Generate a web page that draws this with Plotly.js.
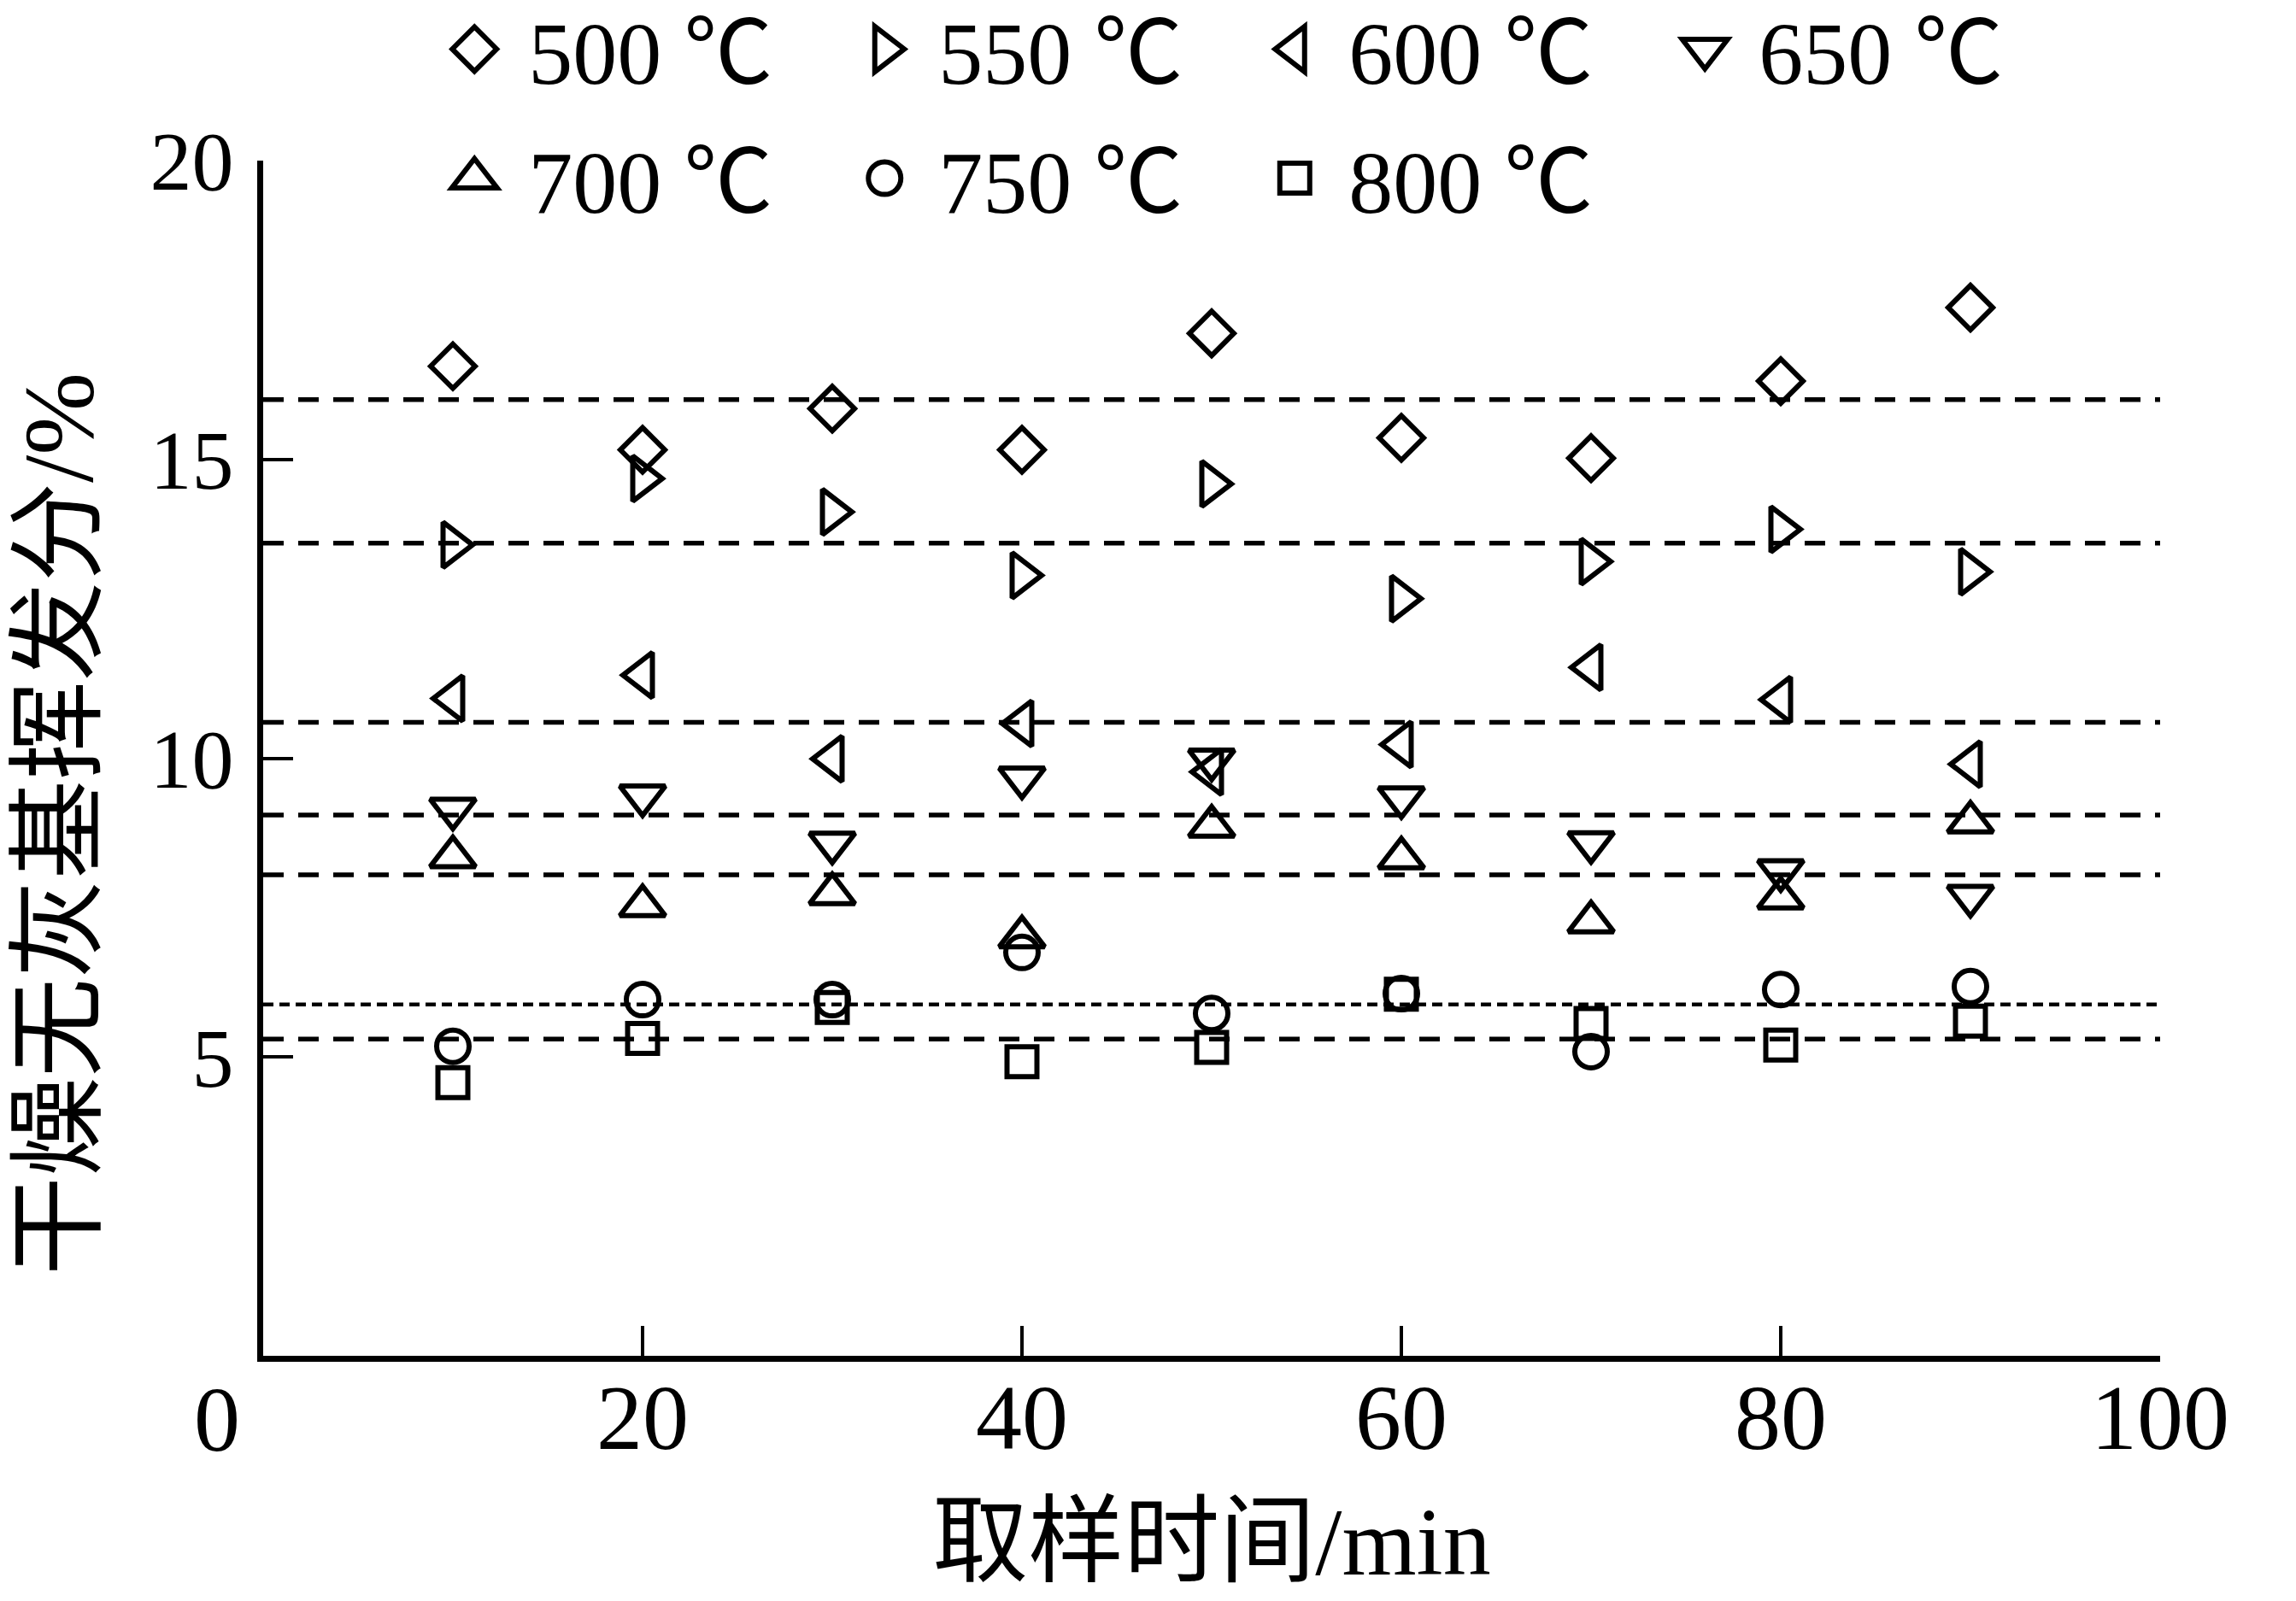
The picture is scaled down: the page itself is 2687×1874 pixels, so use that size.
<!DOCTYPE html>
<html><head><meta charset="utf-8">
<script src="https://cdn.plot.ly/plotly-3.0.1.min.js"></script>
<style>html,body{margin:0;padding:0;background:#fff}</style>
</head><body>
<div id="chart" style="width:2687px;height:1874px"></div>
<script>
// ---- data ----
const sampleTimes = [10, 20, 30, 40, 50, 60, 70, 80, 90];
const seriesNames = ['500 ℃', '550 ℃', '600 ℃', '650 ℃', '700 ℃', '750 ℃', '800 ℃'];
const v500 = [16.56, 15.16, 15.85, 15.16, 17.11, 15.36, 15.02, 16.31, 17.54];
const v550 = [13.57, 14.68, 14.12, 13.06, 14.59, 12.67, 13.29, 13.83, 13.12];
const v600 = [11.00, 11.39, 9.99, 10.58, 9.77, 10.23, 11.52, 10.98, 9.90];
const v650 = [9.15, 9.37, 8.58, 9.67, 9.97, 9.34, 8.59, 8.12, 7.69];
const v700 = [8.35, 7.53, 7.73, 7.01, 8.86, 8.33, 7.26, 7.66, 8.93];
const v750 = [5.18, 5.96, 5.96, 6.75, 5.73, 6.06, 5.09, 6.13, 6.18];
const v800 = [4.57, 5.31, 5.83, 4.92, 5.16, 6.05, 5.56, 5.20, 5.60];
const refLevels = [16.0, 13.6, 10.6, 9.05, 8.05, 5.3];
const fineRefLevels = [5.88];
const xTickVals = [20, 40, 60, 80, 100];
const xTickText = ['20', '40', '60', '80', '100'];
const yTickVals = [5, 10, 15, 20];
const yTickText = ['5', '10', '15', '20'];
const xTitle = '取样时间/min';
const yTitle = '干燥无灰基挥发分/%';

// ---- styles ----
const serif = 'Liberation Serif, Times New Roman, Noto Sans CJK SC, serif';
const allValues = [v500, v550, v600, v650, v700, v750, v800];
const symbols = ['diamond-open', 'triangle-right-open', 'triangle-left-open', 'triangle-down-open',
                 'triangle-up-open', 'circle-open', 'square-open'];
const sizes = [40, 46, 46, 46, 46, 38, 35];
const legendIds = ['legend', 'legend', 'legend', 'legend', 'legend2', 'legend2', 'legend2'];
const MLW = 6;

const traces = allValues.map((vals, i) => ({
  type: 'scatter', mode: 'markers',
  x: sampleTimes, y: vals, name: seriesNames[i],
  legend: legendIds[i],
  marker: { symbol: symbols[i], size: sizes[i], color: '#000', line: { color: '#000', width: MLW } },
  cliponaxis: false
}));

const shapes = [];
refLevels.forEach(lv => shapes.push({
  type: 'line', xref: 'x', yref: 'y', x0: 0, x1: 100, y0: lv, y1: lv,
  line: { color: '#000', width: 5.5, dash: '24px,17px' }
}));
fineRefLevels.forEach(lv => shapes.push({
  type: 'line', xref: 'x', yref: 'y', x0: 0, x1: 100, y0: lv, y1: lv,
  line: { color: '#000', width: 4.5, dash: '12px,7px' }
}));

const legendBase = {
  orientation: 'h', xanchor: 'left', yanchor: 'middle',
  font: { family: serif, size: 104, color: '#000' },
  bgcolor: 'rgba(0,0,0,0)', borderwidth: 0,
  itemwidth: 116, entrywidth: 349, entrywidthmode: 'pixels',
  itemclick: false, itemdoubleclick: false
};

const layout = {
  width: 2687, height: 1874,
  margin: { l: 308, r: 159, t: 188, b: 287, autoexpand: false },
  paper_bgcolor: '#fff', plot_bgcolor: '#fff',
  font: { family: serif, color: '#000' },
  showlegend: true,
  legend: Object.assign({}, legendBase, { x: 0.083, y: 1.093 }),
  legend2: Object.assign({}, legendBase, { x: 0.083, y: 0.985 }),
  xaxis: {
    range: [0, 100], showgrid: false, zeroline: false,
    showline: true, linecolor: '#000', linewidth: 7,
    ticks: 'inside', ticklen: 35, tickwidth: 4, tickcolor: '#000',
    tickmode: 'array', tickvals: xTickVals, ticktext: xTickText,
    tickfont: { family: serif, size: 108, color: '#000' },
    ticklabelstandoff: -28,
    title: { text: xTitle, font: { family: serif, size: 112, color: '#000' }, standoff: 50 }
  },
  yaxis: {
    range: [0, 20], showgrid: false, zeroline: false,
    showline: true, linecolor: '#000', linewidth: 7,
    ticks: 'inside', ticklen: 35, tickwidth: 4, tickcolor: '#000',
    tickmode: 'array', tickvals: yTickVals, ticktext: yTickText,
    tickfont: { family: serif, size: 98, color: '#000' },
    ticklabelstandoff: 8
  },
  shapes: shapes,
  annotations: [{
    xref: 'paper', yref: 'paper', x: -0.0243, y: -0.0536, xanchor: 'center', yanchor: 'middle',
    text: '0', showarrow: false, font: { family: serif, size: 108, color: '#000' }
  }, {
    xref: 'paper', yref: 'paper', x: -0.1077, y: 0.4453, xanchor: 'center', yanchor: 'middle',
    text: yTitle, textangle: -90, showarrow: false, font: { family: serif, size: 116, color: '#000' }
  }]
};

function enlargeLegendSymbols(gd) {
  gd.querySelectorAll('.infolayer g.traces').forEach(g => {
    const d = g.__data__;
    const tr = d && d[0] && d[0].trace;
    if (!tr || !tr.marker) return;
    const k = tr.marker.size / 16;
    g.querySelectorAll('path.scatterpts').forEach(p => {
      const t = p.getAttribute('transform') || '';
      if (t.indexOf('scale') < 0) p.setAttribute('transform', t + ' scale(' + k + ')');
      p.style.vectorEffect = 'non-scaling-stroke';
      p.style.strokeWidth = MLW + 'px';
    });
  });
}

Plotly.newPlot('chart', traces, layout, { staticPlot: true, displayModeBar: false }).then(gd => {
  enlargeLegendSymbols(gd);
  gd.on && gd.on('plotly_afterplot', () => enlargeLegendSymbols(gd));
  setTimeout(() => enlargeLegendSymbols(gd), 50);
  setTimeout(() => enlargeLegendSymbols(gd), 400);
});
</script>
</body></html>
